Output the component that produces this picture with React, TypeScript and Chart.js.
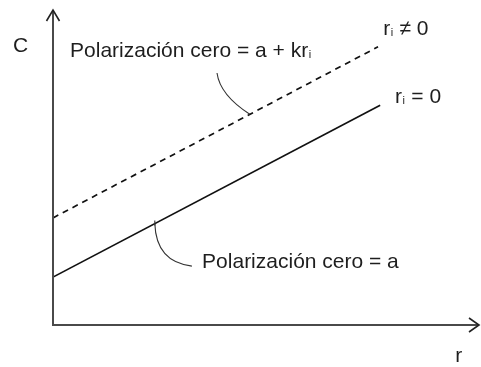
import React, { useEffect, useRef } from "react";
import { Chart, registerables } from "chart.js";

Chart.register(...registerables);

// ---- data (abstract units: x and y both on 0..10) ----
const X_MIN = 0;
const X_MAX = 10;
const Y_MIN = 0;
const Y_MAX = 10;

const solidX = [0, 7.68];
const solidY = [1.52, 6.98];
const dashedX = [0, 7.63];
const dashedY = [3.4, 8.83];

// leader curves: start, control, end
const leaderTopX = [3.85, 3.92, 4.62];
const leaderTopY = [8.0, 7.3, 6.69];
const leaderBottomX = [2.39, 2.42, 3.26];
const leaderBottomY = [3.22, 2.0, 1.87];

// text labels ("_i" = subscript i) at (x, baseline y)
const labelTexts = [
  "C",
  "Polarización cero = a + kr_i",
  "r_i ≠ 0",
  "r_i = 0",
  "Polarización cero = a",
  "r",
];
const labelX = [-0.94, 0.4, 7.75, 8.03, 3.5, 9.44];
const labelY = [8.67, 8.52, 9.21, 7.05, 1.81, -1.17];

const FONT = "'Liberation Sans', Arial, sans-serif";

const drawPlugin = {
  id: "schematic",
  afterDatasetsDraw(chart: any) {
    const ctx = chart.ctx;
    const xs = chart.scales.x;
    const ys = chart.scales.y;
    const px = (v: number) => xs.getPixelForValue(v);
    const py = (v: number) => ys.getPixelForValue(v);
    ctx.save();

    // axes
    const ox = px(X_MIN);
    const oy = py(Y_MIN);
    const tx = px(X_MAX);
    const ty = py(Y_MAX);
    ctx.strokeStyle = "#4a4a4a";
    ctx.lineWidth = 2;
    ctx.beginPath();
    ctx.moveTo(ox, ty + 1);
    ctx.lineTo(ox, oy);
    ctx.lineTo(tx - 1, oy);
    ctx.stroke();
    // arrow heads
    ctx.strokeStyle = "#222";
    ctx.lineWidth = 1.6;
    ctx.beginPath();
    ctx.moveTo(ox - 6.5, ty + 11);
    ctx.lineTo(ox, ty);
    ctx.lineTo(ox + 6.5, ty + 11);
    ctx.stroke();
    ctx.beginPath();
    ctx.moveTo(tx - 10, oy - 7);
    ctx.lineTo(tx, oy);
    ctx.lineTo(tx - 10, oy + 7);
    ctx.stroke();

    // leader curves
    ctx.strokeStyle = "#333";
    ctx.lineWidth = 1.1;
    const curve = (X: number[], Y: number[]) => {
      ctx.beginPath();
      ctx.moveTo(px(X[0]), py(Y[0]));
      ctx.quadraticCurveTo(px(X[1]), py(Y[1]), px(X[2]), py(Y[2]));
      ctx.stroke();
    };
    curve(leaderTopX, leaderTopY);
    curve(leaderBottomX, leaderBottomY);
    // small tick above solid line at bottom leader start
    ctx.beginPath();
    ctx.moveTo(px(leaderBottomX[0]), py(leaderBottomY[0]) - 3);
    ctx.lineTo(px(leaderBottomX[0]), py(leaderBottomY[0]) + 2);
    ctx.stroke();

    // labels
    ctx.fillStyle = "#1e1e1e";
    ctx.textBaseline = "alphabetic";
    ctx.textAlign = "left";
    labelTexts.forEach((t, i) => {
      let x = px(labelX[i]);
      const y = py(labelY[i]);
      const parts = t.split("_i");
      parts.forEach((p, j) => {
        ctx.font = `21px ${FONT}`;
        ctx.fillText(p, x, y);
        x += ctx.measureText(p).width;
        if (j < parts.length - 1) {
          ctx.font = `11px ${FONT}`;
          ctx.fillText("i", x + 0.5, y + 1);
          x += ctx.measureText("i").width + 1;
        }
      });
    });
    ctx.restore();
  },
};

export default function App() {
  const ref = useRef<HTMLCanvasElement | null>(null);
  useEffect(() => {
    if (!ref.current) return;
    const toPts = (X: number[], Y: number[]) => X.map((x, i) => ({ x, y: Y[i] }));
    const chart = new Chart(ref.current, {
      type: "scatter",
      data: {
        datasets: [
          {
            data: toPts(solidX, solidY),
            showLine: true,
            borderColor: "#111",
            borderWidth: 1.7,
            pointRadius: 0,
          },
          {
            data: toPts(dashedX, dashedY),
            showLine: true,
            borderColor: "#111",
            borderWidth: 1.7,
            borderDash: [6, 5],
            pointRadius: 0,
          },
        ],
      },
      options: {
        responsive: false,
        animation: false,
        layout: { padding: { left: 53, right: 2, top: 10, bottom: 42 } },
        plugins: { legend: { display: false }, tooltip: { enabled: false } },
        scales: {
          x: { type: "linear", min: X_MIN, max: X_MAX, display: false },
          y: { type: "linear", min: Y_MIN, max: Y_MAX, display: false },
        },
      },
      plugins: [drawPlugin],
    });
    return () => chart.destroy();
  }, []);
  return (
    <div style={{ position: "absolute", left: 0, top: 0, width: 481, height: 367, background: "#fff" }}>
      <canvas ref={ref} width={481} height={367} />
    </div>
  );
}
